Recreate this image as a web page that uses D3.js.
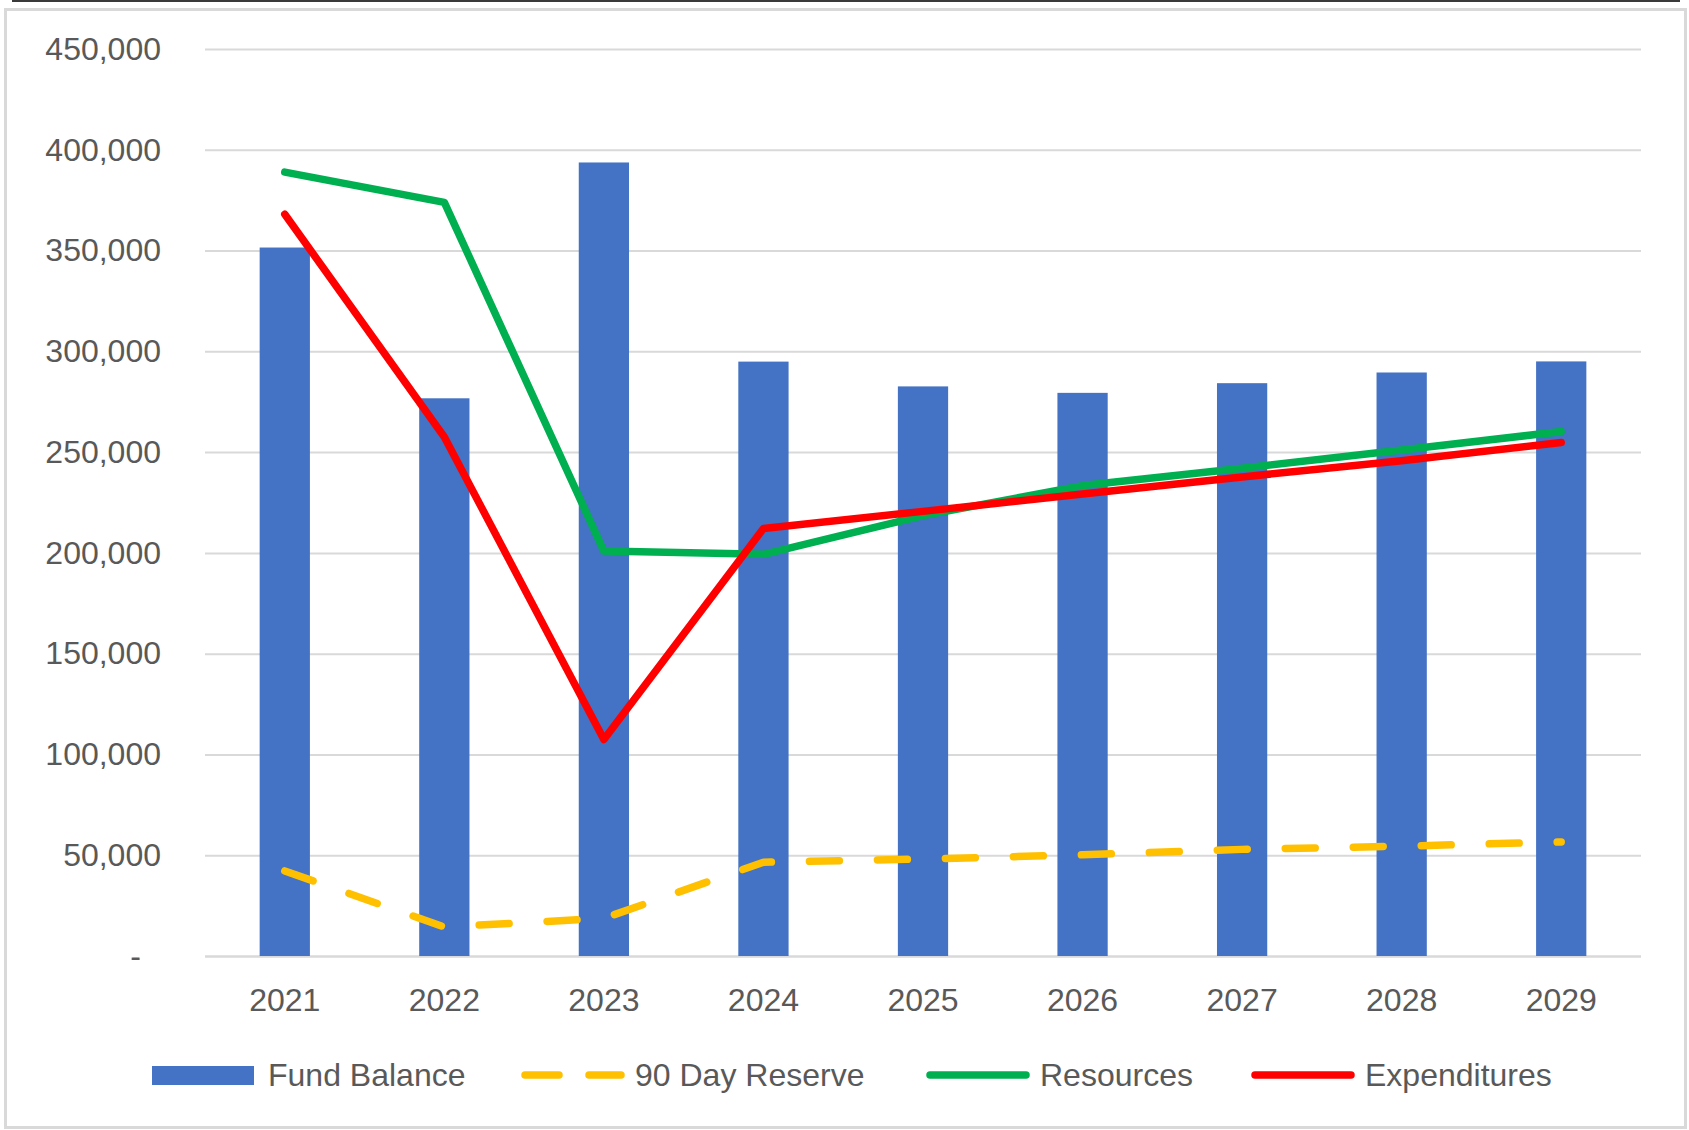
<!DOCTYPE html>
<html>
<head>
<meta charset="utf-8">
<script src="https://cdnjs.cloudflare.com/ajax/libs/d3/7.8.5/d3.min.js"></script>
<style>
  html, body { margin: 0; padding: 0; background: #fff; }
  text { font-family: "Liberation Sans", Arial, sans-serif; fill: #595959; }
</style>
</head>
<body>
<div id="chart"></div>
<script>
// data
var years = ["2021", "2022", "2023", "2024", "2025", "2026", "2027", "2028", "2029"];
var fundBalance = [351500, 276700, 393700, 294900, 282600, 279400, 284200, 289500, 295000];
var reserve90 = [42200, 14400, 18700, 46500, 48100, 50200, 52900, 54500, 56600];
var resources = [388900, 373900, 200900, 199300, 218500, 233400, 242000, 251000, 260200];
var expenditures = [368000, 257500, 107400, 212100, 220600, 229200, 237700, 245700, 254800];
var yTicks = [0, 50000, 100000, 150000, 200000, 250000, 300000, 350000, 400000, 450000];
var legendNames = ["Fund Balance", "90 Day Reserve", "Resources", "Expenditures"];

/* ****** Sizes ****** */
var width = 1689;
var height = 1130;
var margin = { top: 49, right: 48, bottom: 174, left: 205 };
var innerW = width - margin.left - margin.right;
var innerH = height - margin.top - margin.bottom;

var svg = d3.select("#chart")
    .append("svg")
    .attr("width", width)
    .attr("height", height);

// outer frame like the excel chart area
svg.append("rect")
    .attr("x", 5.5).attr("y", 9.5)
    .attr("width", 1680).attr("height", 1118)
    .attr("fill", "none")
    .attr("stroke", "#d9d9d9")
    .attr("stroke-width", 3);
svg.append("line")
    .attr("x1", 12).attr("x2", 1680)
    .attr("y1", 1).attr("y2", 1)
    .attr("stroke", "#3a3a3a")
    .attr("stroke-width", 2);

var g = svg.append("g")
    .attr("transform", "translate(" + margin.left + "," + margin.top + ")");

/* ****** Scales ****** */
var x = d3.scaleBand()
    .domain(years)
    .range([0, innerW])
    .paddingInner(0.685)
    .paddingOuter(0.3425);

var y = d3.scaleLinear()
    .domain([0, 450000])
    .range([innerH, 0]);

var cx = function (d, i) { return x(years[i]) + x.bandwidth() / 2; };

/* ****** Gridlines + y axis ****** */
var yAxis = d3.axisLeft(y)
    .tickValues(yTicks)
    .tickSize(-innerW)
    .tickPadding(44)
    .tickFormat(function (d) { return d === 0 ? "-" : d3.format(",")(d); });

var ya = g.append("g").call(yAxis);
ya.select(".domain").remove();
ya.selectAll(".tick line")
    .attr("stroke", "#d9d9d9")
    .attr("stroke-width", function (d) { return d === 0 ? 2.5 : 2; });
ya.selectAll(".tick text")
    .attr("font-size", 32)
    .attr("fill", "#595959")
    .style("font-family", "'Liberation Sans', Arial, sans-serif")
    .attr("dx", function (d) { return d === 0 ? -20 : 0; });

/* ****** x axis ****** */
var xAxis = d3.axisBottom(x).tickSize(0).tickPadding(32);
var xa = g.append("g")
    .attr("transform", "translate(0," + innerH + ")")
    .call(xAxis);
xa.select(".domain").remove();
xa.selectAll(".tick text")
    .attr("font-size", 32)
    .attr("fill", "#595959")
    .style("font-family", "'Liberation Sans', Arial, sans-serif");

/* ****** Bars ****** */
g.selectAll(".bar")
    .data(fundBalance)
    .enter()
    .append("rect")
    .attr("class", "bar")
    .attr("x", function (d, i) { return x(years[i]); })
    .attr("width", x.bandwidth())
    .attr("y", function (d) { return y(d); })
    .attr("height", function (d) { return innerH - y(d); })
    .attr("fill", "#4472c4");

/* ****** Lines ****** */
var line = d3.line()
    .x(cx)
    .y(function (d) { return y(d); });

var series = [
    { values: reserve90, color: "#ffc000", dash: "30,38" },
    { values: resources, color: "#00b050", dash: null },
    { values: expenditures, color: "#ff0000", dash: null }
];

series.forEach(function (s) {
    g.append("path")
        .datum(s.values)
        .attr("d", line)
        .attr("fill", "none")
        .attr("stroke", s.color)
        .attr("stroke-width", 7.5)
        .attr("stroke-linecap", "round")
        .attr("stroke-linejoin", "round")
        .attr("stroke-dasharray", s.dash);
});

/* ****** Legend ****** */
var legendY = 1075;
var legendItems = [
    { name: legendNames[0], x: 152, type: "bar", color: "#4472c4" },
    { name: legendNames[1], x: 522, type: "dash", color: "#ffc000" },
    { name: legendNames[2], x: 927, type: "line", color: "#00b050" },
    { name: legendNames[3], x: 1252, type: "line", color: "#ff0000" }
];

var leg = svg.append("g");
legendItems.forEach(function (d) {
    if (d.type === "bar") {
        leg.append("rect")
            .attr("x", d.x).attr("y", legendY - 9)
            .attr("width", 102).attr("height", 19)
            .attr("fill", d.color);
    } else {
        leg.append("line")
            .attr("x1", d.x + 3).attr("x2", d.x + 99)
            .attr("y1", legendY).attr("y2", legendY)
            .attr("stroke", d.color)
            .attr("stroke-width", 7.5)
            .attr("stroke-linecap", "round")
            .attr("stroke-dasharray", d.type === "dash" ? "34,30" : null);
    }
    leg.append("text")
        .attr("x", d.x + (d.type === "bar" ? 116 : 113))
        .attr("y", legendY)
        .attr("dy", "0.35em")
        .attr("font-size", 32)
        .text(d.name);
});
</script>
</body>
</html>
